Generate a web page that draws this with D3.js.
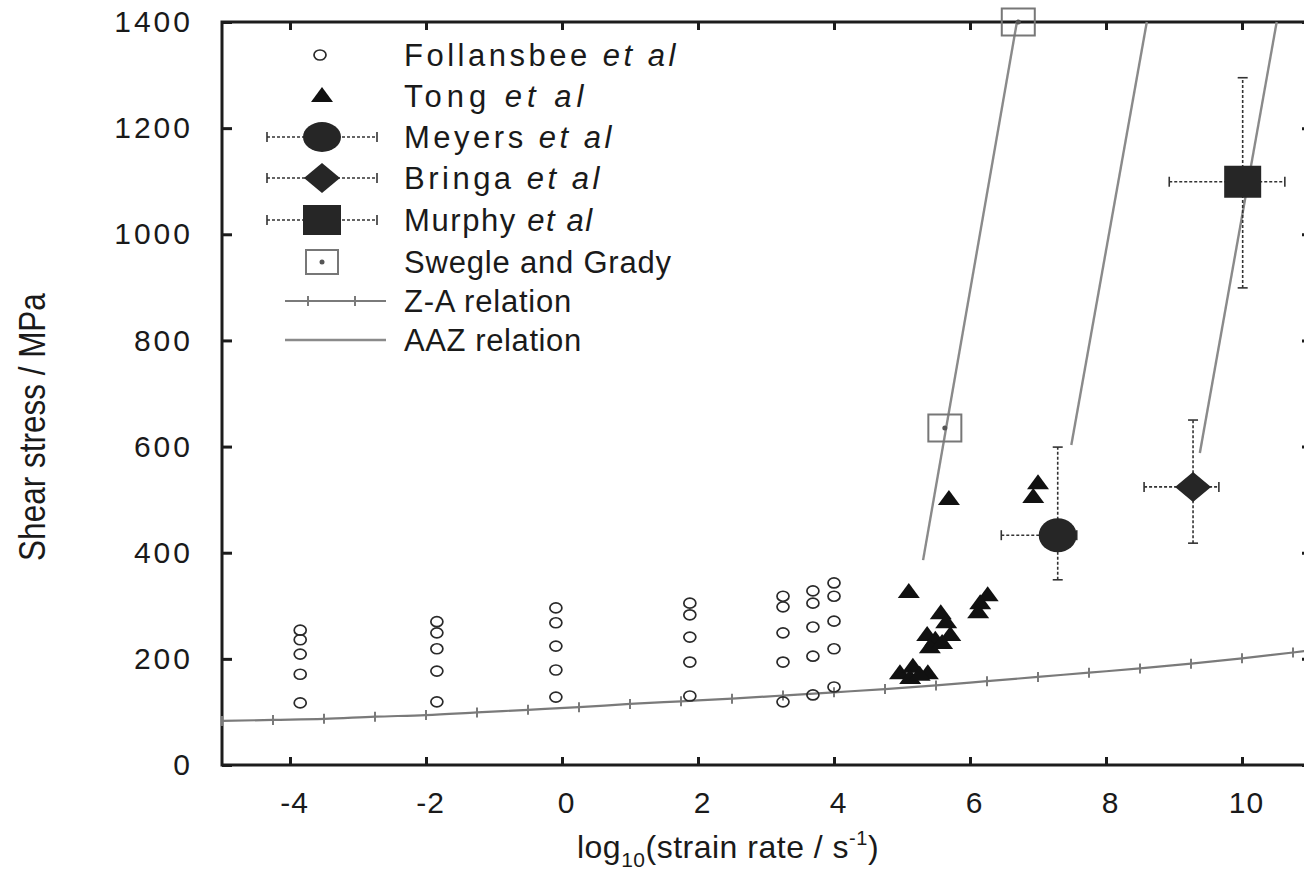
<!DOCTYPE html>
<html>
<head>
<meta charset="utf-8">
<script src="https://cdn.jsdelivr.net/npm/d3@7"></script>
<style>
  body { margin: 0; background: #fff; }
  text { font-family: "Liberation Sans", Arial, sans-serif; fill: #1a1a1a; }
</style>
</head>
<body>
<div id="chart"></div>
<script>
// --- data (x = log10 strain rate, y = shear stress MPa) ---
const xTicks = [-4, -2, 0, 2, 4, 6, 8, 10];
const yTicks = [0, 200, 400, 600, 800, 1000, 1200, 1400];

const follansbee = [
  [-3.85, 254], [-3.85, 236], [-3.85, 209], [-3.85, 171], [-3.85, 117],
  [-1.84, 270], [-1.84, 249], [-1.84, 219], [-1.84, 177], [-1.84, 119],
  [-0.09, 296], [-0.09, 268], [-0.09, 224], [-0.09, 179], [-0.09, 128],
  [1.88, 305], [1.88, 283], [1.88, 241], [1.88, 194], [1.88, 130],
  [3.25, 318], [3.25, 298], [3.25, 249], [3.25, 194], [3.25, 119],
  [3.69, 328], [3.69, 305], [3.69, 260], [3.69, 205], [3.69, 132],
  [4.00, 343], [4.00, 318], [4.00, 271], [4.00, 219], [4.00, 147]
];

const tong = [
  [5.10, 326], [6.26, 320], [6.15, 305], [6.12, 288], [5.69, 501],
  [7.00, 531], [6.93, 505], [5.57, 286], [5.65, 269], [5.71, 245],
  [5.37, 245], [5.49, 236], [5.41, 222], [5.59, 230], [4.97, 173],
  [5.16, 185], [5.12, 164], [5.38, 173], [5.26, 170]
];

// [x, stress, xlo, xhi, ylo, yhi]
const meyers = [[7.29, 433, 6.46, 7.57, 349, 599]];
const bringa = [[9.28, 524, 8.56, 9.66, 418, 650]];
const murphy = [[10.01, 1099, 8.93, 10.63, 899, 1295]];

const swegle = [[5.63, 635], [6.71, 1400]];

const zaRelation = [
  [-5, 83], [-4.25, 85], [-3.5, 87], [-2.75, 91], [-2, 94], [-1.25, 99],
  [-0.5, 104], [0.25, 109], [1, 115], [1.75, 120], [2.5, 125], [3.25, 131],
  [4, 137], [4.75, 143], [5.5, 150], [6.25, 158], [7, 166], [7.75, 174],
  [8.5, 182], [9.25, 191], [10, 201], [10.75, 212], [11, 216]
];

const aazLines = [
  [[5.31, 386], [6.69, 1400]],
  [[7.49, 603], [8.60, 1400]],
  [[9.38, 588], [10.51, 1400]]
];

const legendNames = ["Follansbee", "Tong", "Meyers", "Bringa", "Murphy",
  "Swegle and Grady", "Z-A relation", "AAZ relation"];
const legendItalic = ["et al", "et al", "et al", "et al", "et al", "", "", ""];

// --- layout ---
const W = 1304, H = 876;
const svg = d3.select("#chart").append("svg")
  .attr("width", W)
  .attr("height", H);

const x = d3.scaleLinear().domain([-5, 11]).range([222, 1310]);
const y = d3.scaleLinear().domain([0, 1400]).range([765, 22]);

const ink = "#1c1c1c";

// axes
const gx = svg.append("g")
  .attr("transform", "translate(0," + y(0) + ")")
  .call(d3.axisBottom(x).tickValues(xTicks).tickSizeInner(-8).tickSizeOuter(0).tickPadding(27)
    .tickFormat(d => String(d)));
const gy = svg.append("g")
  .attr("transform", "translate(" + x(-5) + ",0)")
  .call(d3.axisLeft(y).tickValues(yTicks).tickSizeInner(-10).tickSizeOuter(0).tickPadding(29)
    .tickFormat(d => String(d)));
svg.append("g")
  .attr("transform", "translate(0," + y(1400) + ")")
  .call(d3.axisTop(x).tickValues(xTicks).tickSizeInner(-8).tickSizeOuter(0).tickFormat(""));
svg.append("g")
  .attr("transform", "translate(" + x(11) + ",0)")
  .call(d3.axisRight(y).tickValues(yTicks).tickSizeInner(-8).tickSizeOuter(0).tickFormat(""));

svg.selectAll(".domain").remove();
svg.selectAll(".tick line").attr("stroke", ink).attr("stroke-width", 3);
svg.selectAll(".tick text")
  .style("font-size", "30px")
  .style("font-family", "'Liberation Sans', Arial, sans-serif")
  .attr("fill", "#222");
gy.selectAll(".tick text").style("letter-spacing", "3px");
gx.selectAll(".tick text").style("letter-spacing", "1px").attr("dx", 4);

svg.append("rect")
  .attr("x", x(-5)).attr("y", y(1400))
  .attr("width", x(11) - x(-5)).attr("height", y(0) - y(1400))
  .attr("fill", "none").attr("stroke", ink).attr("stroke-width", 3);

// axis titles
svg.append("text")
  .attr("transform", "translate(45,427) rotate(-90) scale(1,1.2)")
  .attr("text-anchor", "middle")
  .style("font-size", "31.5px")
  .text("Shear stress / MPa");

const xt = svg.append("text")
  .attr("x", 728).attr("y", 858)
  .attr("text-anchor", "middle")
  .style("font-size", "32px")
  .style("letter-spacing", "0.5px");
xt.append("tspan").text("log");
xt.append("tspan").attr("dy", 9).style("font-size", "21px").text("10");
xt.append("tspan").attr("dy", -9).text("(strain rate / s");
xt.append("tspan").attr("dy", -13).style("font-size", "20px").text("-1");
xt.append("tspan").attr("dy", 13).text(")");

// Z-A relation
const lineGen = d3.line().x(d => x(d[0])).y(d => y(d[1])).curve(d3.curveMonotoneX);
svg.append("path")
  .datum(zaRelation)
  .attr("d", lineGen)
  .attr("fill", "none").attr("stroke", "#7a7a7a").attr("stroke-width", 2.2);
svg.append("g").selectAll("line")
  .data(zaRelation)
  .enter().append("line")
  .attr("x1", d => x(d[0])).attr("x2", d => x(d[0]))
  .attr("y1", d => y(d[1]) - 5).attr("y2", d => y(d[1]) + 5)
  .attr("stroke", "#7a7a7a").attr("stroke-width", 2);

// AAZ relation
svg.append("g").selectAll("path")
  .data(aazLines)
  .enter().append("path")
  .attr("d", d3.line().x(d => x(d[0])).y(d => y(d[1])))
  .attr("fill", "none").attr("stroke", "#8a8a8a").attr("stroke-width", 2.4);

// Follansbee
svg.append("g").selectAll("ellipse")
  .data(follansbee)
  .enter().append("ellipse")
  .attr("cx", d => x(d[0])).attr("cy", d => y(d[1]))
  .attr("rx", 6).attr("ry", 5)
  .attr("fill", "none").attr("stroke", "#2a2a2a").attr("stroke-width", 1.7);

// Tong
const tri = "M0,-9L11,6L-11,6Z";
svg.append("g").selectAll("path")
  .data(tong)
  .enter().append("path")
  .attr("transform", d => "translate(" + x(d[0]) + "," + y(d[1]) + ")")
  .attr("d", tri)
  .attr("fill", "#111");

// error bars
function errorBars(data) {
  const g = svg.append("g").attr("stroke", "#333").attr("stroke-width", 1.6);
  data.forEach(d => {
    g.append("line").attr("x1", x(d[2])).attr("x2", x(d[3])).attr("y1", y(d[1])).attr("y2", y(d[1]))
      .attr("stroke-dasharray", "3,2");
    g.append("line").attr("x1", x(d[0])).attr("x2", x(d[0])).attr("y1", y(d[4])).attr("y2", y(d[5]))
      .attr("stroke-dasharray", "3,2");
    [d[2], d[3]].forEach(v => g.append("line").attr("x1", x(v)).attr("x2", x(v))
      .attr("y1", y(d[1]) - 5).attr("y2", y(d[1]) + 5));
    [d[4], d[5]].forEach(v => g.append("line").attr("x1", x(d[0]) - 5).attr("x2", x(d[0]) + 5)
      .attr("y1", y(v)).attr("y2", y(v)));
  });
}
errorBars(meyers);
errorBars(bringa);
errorBars(murphy);

const markFill = "#262626";
svg.append("g").selectAll("ellipse")
  .data(meyers).enter().append("ellipse")
  .attr("cx", d => x(d[0])).attr("cy", d => y(d[1]))
  .attr("rx", 19).attr("ry", 17).attr("fill", markFill);

const diamond = "M0,-15L18,0L0,15L-18,0Z";
svg.append("g").selectAll("path")
  .data(bringa).enter().append("path")
  .attr("transform", d => "translate(" + x(d[0]) + "," + y(d[1]) + ")")
  .attr("d", diamond).attr("fill", markFill);

svg.append("g").selectAll("rect")
  .data(murphy).enter().append("rect")
  .attr("x", d => x(d[0]) - 18.5).attr("y", d => y(d[1]) - 16)
  .attr("width", 37).attr("height", 32).attr("fill", markFill);

// Swegle and Grady
const sg = svg.append("g").selectAll("g")
  .data(swegle).enter().append("g")
  .attr("transform", d => "translate(" + x(d[0]) + "," + y(d[1]) + ")");
sg.append("rect").attr("x", -16.5).attr("y", -13.5).attr("width", 33).attr("height", 27)
  .attr("fill", "none").attr("stroke", "#777").attr("stroke-width", 2);
sg.append("circle").attr("r", 2.5).attr("fill", "#555");

// --- legend ---
const rowY = [55, 96, 137, 178, 220, 262, 301, 340];
const rowSpacing = [3.5, 5, 3.5, 3.5, 1.6, 0.8, 0.8, 0.6];
const lx = 322, textX = 404;
const leg = svg.append("g");

leg.append("ellipse").attr("cx", lx - 2).attr("cy", rowY[0]).attr("rx", 6).attr("ry", 5)
  .attr("fill", "none").attr("stroke", "#2a2a2a").attr("stroke-width", 1.7);
leg.append("path").attr("transform", "translate(" + lx + "," + rowY[1] + ")").attr("d", tri).attr("fill", "#111");
[2, 3, 4].forEach(i => {
  leg.append("line").attr("x1", 267).attr("x2", 377).attr("y1", rowY[i]).attr("y2", rowY[i])
    .attr("stroke", "#333").attr("stroke-width", 1.6).attr("stroke-dasharray", "3,2");
  [267, 377].forEach(v => leg.append("line").attr("x1", v).attr("x2", v)
    .attr("y1", rowY[i] - 5).attr("y2", rowY[i] + 5).attr("stroke", "#333").attr("stroke-width", 1.6));
});
leg.append("ellipse").attr("cx", lx).attr("cy", rowY[2]).attr("rx", 19).attr("ry", 15).attr("fill", markFill);
leg.append("path").attr("transform", "translate(" + lx + "," + rowY[3] + ")").attr("d", diamond).attr("fill", markFill);
leg.append("rect").attr("x", lx - 19).attr("y", rowY[4] - 15).attr("width", 38).attr("height", 30).attr("fill", markFill);
leg.append("rect").attr("x", lx - 16).attr("y", rowY[5] - 12).attr("width", 32).attr("height", 24)
  .attr("fill", "none").attr("stroke", "#777").attr("stroke-width", 2);
leg.append("circle").attr("cx", lx).attr("cy", rowY[5]).attr("r", 2.5).attr("fill", "#555");
leg.append("line").attr("x1", 285).attr("x2", 386).attr("y1", rowY[6]).attr("y2", rowY[6])
  .attr("stroke", "#7a7a7a").attr("stroke-width", 2.2);
[308, 355].forEach(v => leg.append("line").attr("x1", v).attr("x2", v)
  .attr("y1", rowY[6] - 5).attr("y2", rowY[6] + 5).attr("stroke", "#7a7a7a").attr("stroke-width", 2));
leg.append("line").attr("x1", 285).attr("x2", 386).attr("y1", rowY[7]).attr("y2", rowY[7])
  .attr("stroke", "#8a8a8a").attr("stroke-width", 2.4);

legendNames.forEach((name, i) => {
  const t = leg.append("text")
    .attr("x", textX).attr("y", rowY[i] + 11)
    .style("font-size", "31px")
    .style("letter-spacing", rowSpacing[i] + "px");
  t.append("tspan").text(name);
  if (legendItalic[i]) {
    t.append("tspan").style("font-style", "italic").text(" " + legendItalic[i]);
  }
});
</script>
</body>
</html>
